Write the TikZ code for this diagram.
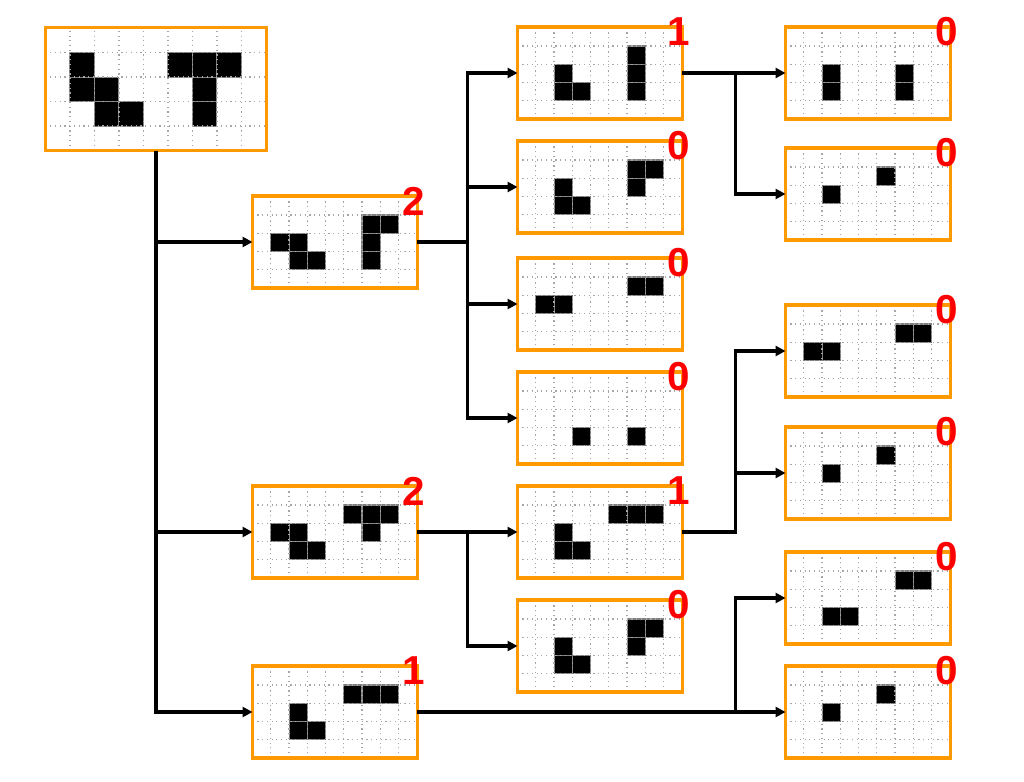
\documentclass[tikz,border=0pt]{standalone}
\usepackage{fontspec}
\setmainfont{Liberation Sans}
\usetikzlibrary{arrows.meta}
\definecolor{boardorange}{RGB}{255,153,0}

% one board: name, centre, cell size (cm), black cells col/row, count
\newcommand{\board}[5]{%
  \node[board, minimum width=9*#3cm, minimum height=5*#3cm] (#1) at #2 {};
  \begin{scope}[shift={(#1.south west)}, x=#3cm, y=#3cm]
    \foreach \cx/\cy in {#4}
      \draw[stone] (\cx,4-\cy) rectangle ++(1,1);
    \draw[cellgrid] (0,0) grid[step=1] (9,5);
  \end{scope}
  \draw[frame] (#1.south west) rectangle (#1.north east);
  \if\relax\detokenize{#5}\relax\else
    \node[count] (#1-n) at ([xshift=-0.08cm,yshift=-0.1cm]#1.north east) {#5};
  \fi
}

\begin{document}
\begin{tikzpicture}[x=0.02cm, y=-0.02cm,
  board/.style = {inner sep=0pt, fill=white},
  stone/.style = {fill=black, draw=gray, line width=0.6pt},
  cellgrid/.style = {gray!70, dotted, line width=0.7pt},
  frame/.style = {draw=boardorange, line width=1.9pt},
  count/.style = {text=red, inner sep=0pt,
    font=\bfseries\fontsize{23}{23}\selectfont},
  link/.style = {line width=2.2pt, -{Triangle[length=0.2cm,width=0.2cm]}}]
  \useasboundingbox (0,0) rectangle (1024,781);

  \board{root}{(156,89)}{0.49}{1/1,1/2,2/2,2/3,3/3,5/1,6/1,7/1,6/2,6/3}{}

  \board{bA}{(335,242)}{0.365}{1/2,2/2,2/3,3/3,6/1,7/1,6/2,6/3}{2}
  \board{bB}{(335,532)}{0.365}{1/2,2/2,2/3,3/3,5/1,6/1,7/1,6/2}{2}
  \board{bC}{(335,712)}{0.365}{2/2,2/3,3/3,5/1,6/1,7/1}{1}

  \board{c1}{(600,73)}{0.365}{2/2,2/3,3/3,6/1,6/2,6/3}{1}
  \board{c2}{(600,187)}{0.365}{2/2,2/3,3/3,6/1,7/1,6/2}{0}
  \board{c3}{(600,304)}{0.365}{1/2,2/2,6/1,7/1}{0}
  \board{c4}{(600,418)}{0.365}{3/3,6/3}{0}
  \board{c5}{(600,532)}{0.365}{2/2,2/3,3/3,5/1,6/1,7/1}{1}
  \board{c6}{(600,646)}{0.365}{2/2,2/3,3/3,6/1,7/1,6/2}{0}

  \board{d1}{(868,73)}{0.365}{2/2,2/3,6/2,6/3}{0}
  \board{d2}{(868,194)}{0.365}{2/2,5/1}{0}
  \board{d3}{(868,351)}{0.365}{1/2,2/2,6/1,7/1}{0}
  \board{d4}{(868,473)}{0.365}{2/2,5/1}{0}
  \board{d5}{(868,598)}{0.365}{2/3,3/3,6/1,7/1}{0}
  \board{d6}{(868,712)}{0.365}{2/2,5/1}{0}

  % connectors
  \foreach \b in {bA,bB,bC}
    \draw[link] (root.south) |- (\b.west);
  \foreach \c in {c1,c2,c3,c4}
    \draw[link] (bA.east) -- ++(50,0) |- (\c.west);
  \draw[link] (bB.east) -- (c5.west);
  \draw[link] (bB.east) -- ++(50,0) |- (c6.west);
  \draw[link] (c1.east) -- (d1.west);
  \draw[link] (c1.east) -- ++(53,0) |- (d2.west);
  \foreach \d in {d3,d4}
    \draw[link] (c5.east) -- ++(53,0) |- (\d.west);
  \draw[link] (bC.east) -- (d6.west);
  \draw[link] (bC.east) -- ++(318,0) |- (d5.west);
\end{tikzpicture}
\end{document}
